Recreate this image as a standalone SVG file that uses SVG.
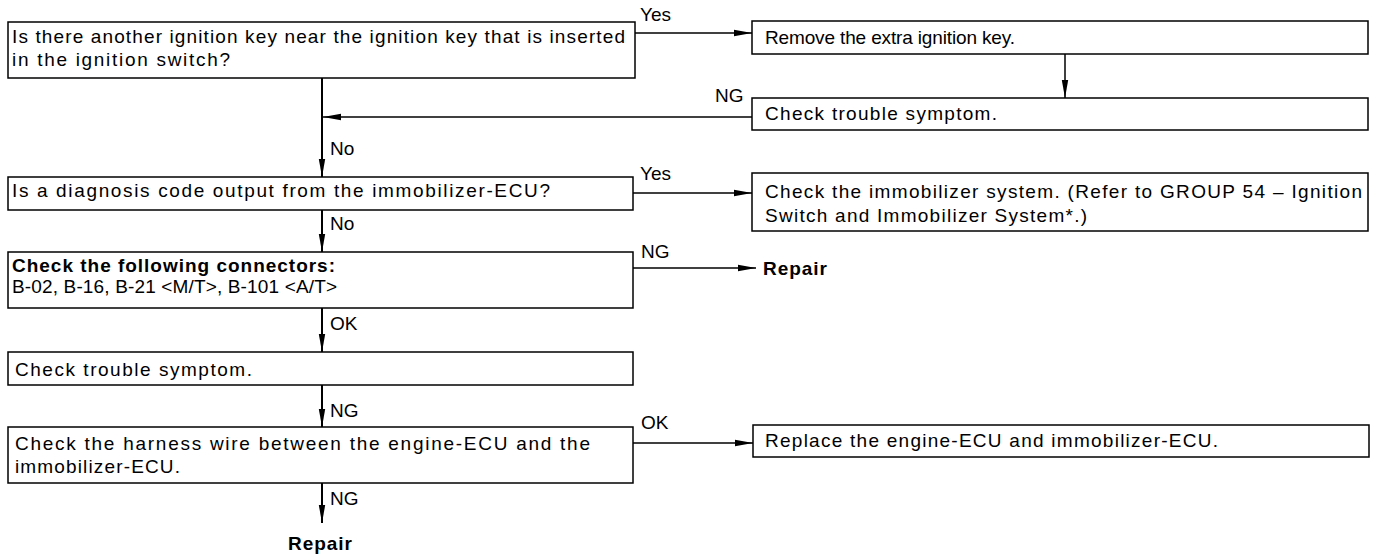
<svg xmlns="http://www.w3.org/2000/svg" width="1379" height="560" viewBox="0 0 1379 560">
<style>
.box{fill:#fff;stroke:#000;stroke-width:1.5}
.t{font-family:"Liberation Sans",Arial,Helvetica,sans-serif;font-size:19px;fill:#000}
.b{font-weight:bold}
.c{fill:none;stroke:#000;stroke-width:1.5}
.v{fill:none;stroke:#000;stroke-width:2}
</style>
<defs>
<marker id="ah" markerUnits="userSpaceOnUse" markerWidth="18" markerHeight="8" refX="18" refY="4" orient="auto">
<path d="M0,0.8 L18,4 L0,7.2 z" fill="#000"/>
</marker>
</defs>
<rect width="1379" height="560" fill="#fff"/>
<g id="connectors">
<line class="c" x1="635" y1="33" x2="752" y2="33" marker-end="url(#ah)"/>
<line class="c" x1="1065" y1="54" x2="1065" y2="98" marker-end="url(#ah)"/>
<line class="c" x1="752" y1="117" x2="323" y2="117" marker-end="url(#ah)"/>
<line class="v" x1="322" y1="78" x2="322" y2="177" marker-end="url(#ah)"/>
<line class="c" x1="633" y1="193" x2="752" y2="193" marker-end="url(#ah)"/>
<line class="v" x1="322" y1="210" x2="322" y2="252" marker-end="url(#ah)"/>
<line class="c" x1="633" y1="268" x2="756" y2="268" marker-end="url(#ah)"/>
<line class="v" x1="322" y1="308" x2="322" y2="352" marker-end="url(#ah)"/>
<line class="v" x1="322" y1="385" x2="322" y2="427" marker-end="url(#ah)"/>
<line class="c" x1="633" y1="443" x2="753" y2="443" marker-end="url(#ah)"/>
<line class="v" x1="322" y1="483" x2="322" y2="523" marker-end="url(#ah)"/>
<text class="t" x="640" y="21">Yes</text>
<text class="t" x="715" y="102">NG</text>
<text class="t" x="330" y="155">No</text>
<text class="t" x="640" y="180">Yes</text>
<text class="t" x="330" y="230">No</text>
<text class="t" x="641" y="258">NG</text>
<text class="t" x="330" y="330">OK</text>
<text class="t" x="330" y="417">NG</text>
<text class="t" x="641" y="429">OK</text>
<text class="t" x="330" y="505">NG</text>
</g>
<g id="q1">
<rect class="box" x="8" y="22" width="627" height="56"/>
<text class="t" x="12" y="43" textLength="613" lengthAdjust="spacing">Is there another ignition key near the ignition key that is inserted</text>
<text class="t" x="12" y="66" textLength="218" lengthAdjust="spacing">in the ignition switch?</text>
</g>
<g id="remove">
<rect class="box" x="752" y="21" width="616" height="33"/>
<text class="t" x="765" y="44" textLength="250" lengthAdjust="spacing">Remove the extra ignition key.</text>
</g>
<g id="check1">
<rect class="box" x="752" y="98" width="616" height="32"/>
<text class="t" x="765" y="120" textLength="232" lengthAdjust="spacing">Check trouble symptom.</text>
</g>
<g id="q2">
<rect class="box" x="8" y="177" width="625" height="33"/>
<text class="t" x="12" y="197" textLength="538" lengthAdjust="spacing">Is a diagnosis code output from the immobilizer-ECU?</text>
</g>
<g id="immo">
<rect class="box" x="752" y="173" width="616" height="58"/>
<text class="t" x="765" y="198" textLength="597" lengthAdjust="spacing">Check the immobilizer system. (Refer to GROUP 54 – Ignition</text>
<text class="t" x="765" y="222" textLength="322" lengthAdjust="spacing">Switch and Immobilizer System*.)</text>
</g>
<g id="connectors-check">
<rect class="box" x="8" y="252" width="625" height="56"/>
<text class="t b" x="12" y="272" textLength="323" lengthAdjust="spacing">Check the following connectors:</text>
<text class="t" x="12" y="293" textLength="325" lengthAdjust="spacing">B-02, B-16, B-21 &lt;M/T&gt;, B-101 &lt;A/T&gt;</text>
</g>
<g id="repair1">
<text class="t b" x="763" y="275" textLength="64" lengthAdjust="spacing">Repair</text>
</g>
<g id="check2">
<rect class="box" x="8" y="352" width="625" height="33"/>
<text class="t" x="15" y="376" textLength="237" lengthAdjust="spacing">Check trouble symptom.</text>
</g>
<g id="harness">
<rect class="box" x="8" y="427" width="625" height="56"/>
<text class="t" x="15" y="450" textLength="575" lengthAdjust="spacing">Check the harness wire between the engine-ECU and the</text>
<text class="t" x="15" y="473" textLength="165" lengthAdjust="spacing">immobilizer-ECU.</text>
</g>
<g id="replace">
<rect class="box" x="753" y="425" width="616" height="32"/>
<text class="t" x="765" y="447" textLength="453" lengthAdjust="spacing">Replace the engine-ECU and immobilizer-ECU.</text>
</g>
<g id="repair2">
<text class="t b" x="288" y="550" textLength="64" lengthAdjust="spacing">Repair</text>
</g>
</svg>
